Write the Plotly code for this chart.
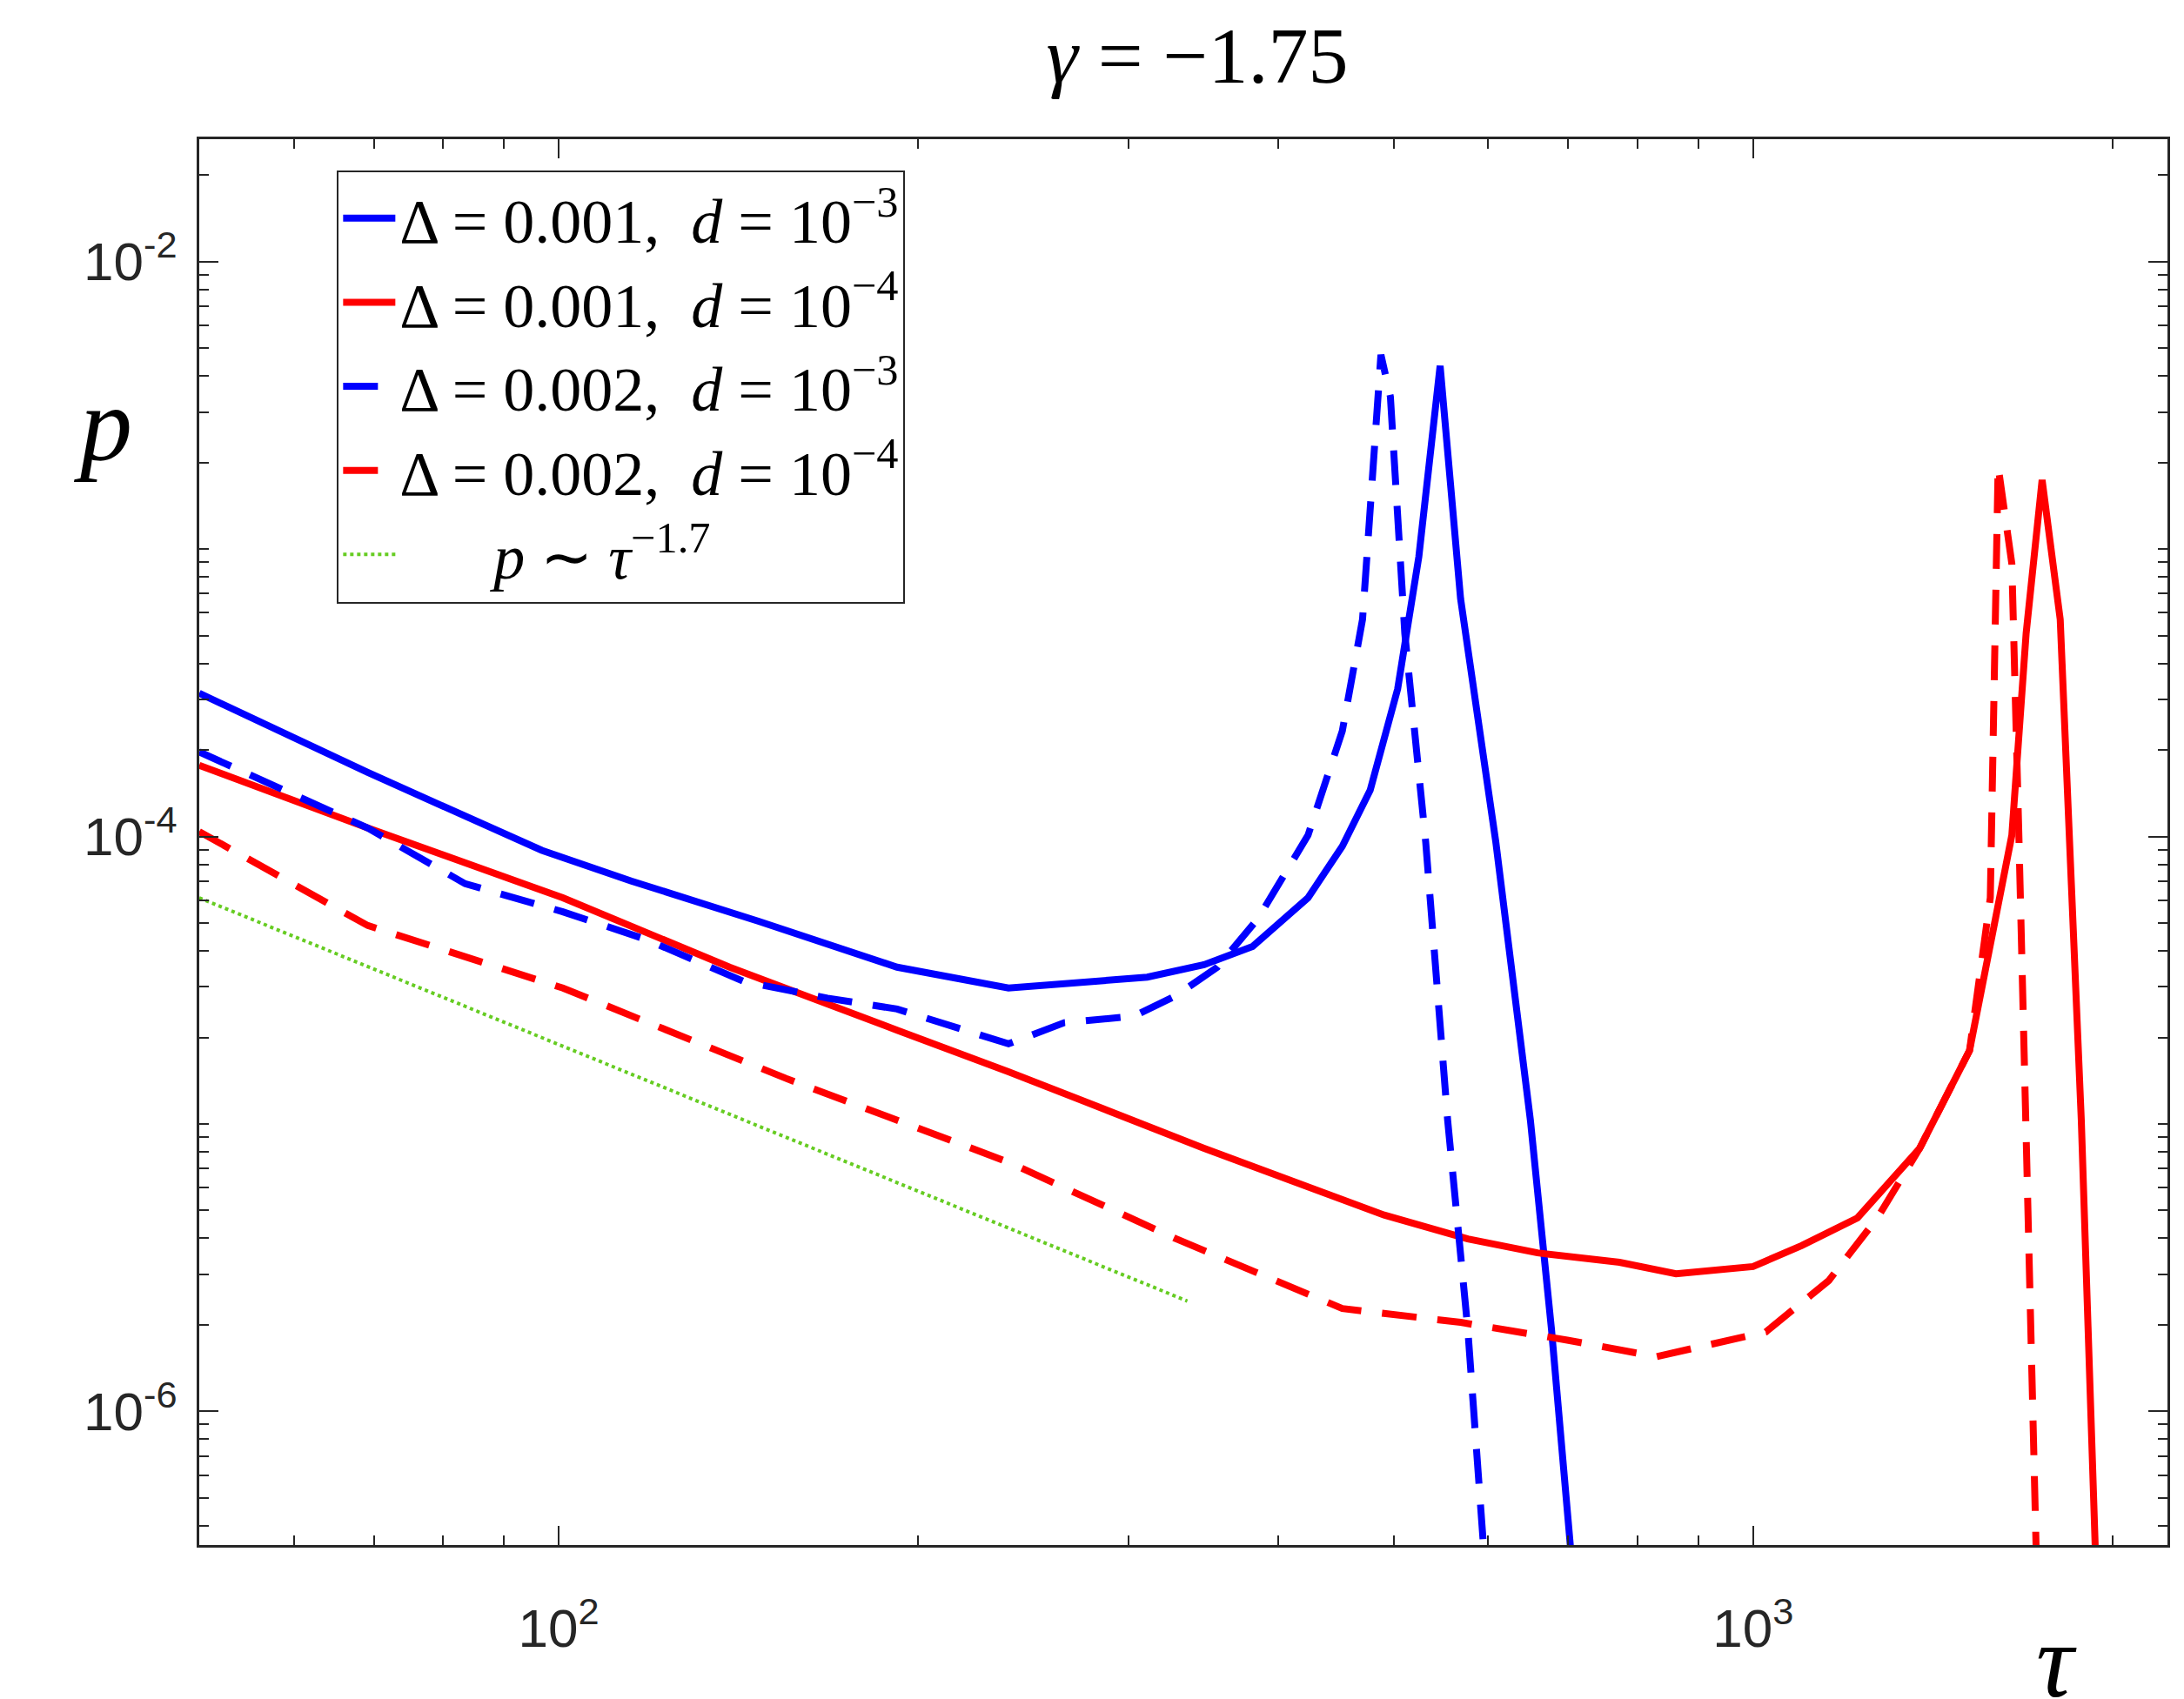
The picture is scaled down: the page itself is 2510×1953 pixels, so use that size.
import plotly.graph_objects as go

tau_bs = [50, 69.2, 96.8, 115, 147, 192, 238, 265, 311, 347, 381, 424, 453, 478, 504, 525, 547, 569, 609, 651, 678, 705]
p_bs = [3.15e-4, 1.67e-4, 8.95e-5, 7.0e-5, 5.07e-5, 3.51e-5, 2.97e-5, 3.07e-5, 3.24e-5, 3.58e-5, 4.14e-5, 6.12e-5, 9.25e-5, 1.45e-4, 3.26e-4, 9.4e-4, 4.34e-3, 6.73e-4, 9.57e-5, 1.03e-5, 1.93e-6, 3e-7]

tau_bd = [50, 69.2, 83.5, 100.8, 118.4, 142.9, 167.9, 192, 238, 265, 303, 329, 356, 385, 424, 453, 471, 488, 497, 511, 532, 555, 577, 596]
p_bd = [1.97e-4, 1.07e-4, 6.85e-5, 5.47e-5, 4.38e-5, 3.13e-5, 2.74e-5, 2.51e-5, 1.90e-5, 2.25e-5, 2.37e-5, 2.8e-5, 3.51e-5, 5.18e-5, 1.01e-4, 2.33e-4, 5.69e-4, 4.74e-3, 3.39e-3, 5.09e-4, 9.57e-5, 1.03e-5, 1.93e-6, 3e-7]

tau_rs = [50, 69.2, 100.8, 139, 192, 238, 347, 491, 577, 660, 773, 862, 1000, 1098, 1223, 1379, 1518, 1647, 1693, 1746, 1808, 1833, 1883, 1936]
p_rs = [1.77e-4, 1.07e-4, 6.12e-5, 3.51e-5, 2.12e-5, 1.52e-5, 8.23e-6, 4.82e-6, 3.98e-6, 3.56e-6, 3.30e-6, 3.01e-6, 3.19e-6, 3.77e-6, 4.71e-6, 8.23e-6, 1.80e-5, 1.01e-4, 5.09e-4, 1.74e-3, 5.69e-4, 1.34e-4, 1.03e-5, 3e-7]

tau_rd = [50, 69.2, 100.8, 155, 238, 329, 453, 569, 699, 830, 1025, 1157, 1271, 1379, 1518, 1580, 1604, 1647, 1670, 1714, 1727]
p_rd = [1.04e-4, 4.9e-5, 2.97e-5, 1.44e-5, 7.36e-6, 3.98e-6, 2.28e-6, 2.04e-6, 1.77e-6, 1.55e-6, 1.89e-6, 2.85e-6, 4.71e-6, 8.23e-6, 1.80e-5, 6.12e-5, 1.94e-3, 8.9e-4, 9.57e-5, 1.11e-6, 3e-7]

tau_g = [50, 336]
p_g = [6.12e-5, 2.42e-6]

xticks = [100, 1000]
xticktext = ["10<sup>2</sup>", "10<sup>3</sup>"]
yticks = [1e-2, 1e-4, 1e-6]
yticktext = ["10<sup>-2</sup>", "10<sup>-4</sup>", "10<sup>-6</sup>"]

SERIF = "Liberation Serif"

def lab(delta, exp):
    return f"Δ = {delta},  <i>d</i> = 10<sup>−{exp}</sup>"

fig = go.Figure()
fig.add_trace(go.Scatter(x=tau_bs, y=p_bs, mode="lines", name=lab("0.001", 3),
                         line=dict(color="#0000ff", width=8)))
fig.add_trace(go.Scatter(x=tau_rs, y=p_rs, mode="lines", name=lab("0.001", 4),
                         line=dict(color="#ff0000", width=8)))
fig.add_trace(go.Scatter(x=tau_bd, y=p_bd, mode="lines", name=lab("0.002", 3),
                         line=dict(color="#0000ff", width=8, dash="40px,24px")))
fig.add_trace(go.Scatter(x=tau_rd, y=p_rd, mode="lines", name=lab("0.002", 4),
                         line=dict(color="#ff0000", width=8, dash="40px,24px")))
fig.add_trace(go.Scatter(x=tau_g, y=p_g, mode="lines",
                         name="      <i>p</i> ∼ <i>τ</i><sup>−1.7</sup>",
                         line=dict(color="#66cc22", width=4, dash="dot")))

axis_common = dict(showline=True, linecolor="#262626", linewidth=3, mirror="ticks",
                   ticks="inside", ticklen=22, tickwidth=2, tickcolor="#262626",
                   showgrid=False, zeroline=False,
                   tickfont=dict(family="Liberation Sans", size=62, color="#262626"),
                   minor=dict(ticks="inside", ticklen=11, tickwidth=2, tickcolor="#262626",
                              showgrid=False, dtick="D1"))

fig.update_xaxes(type="log", range=[1.699, 3.347], tickvals=xticks, ticktext=xticktext,
                 ticklabelstandoff=40, **axis_common)
fig.update_yaxes(type="log", range=[-6.465, -1.574], tickvals=yticks, ticktext=yticktext,
                 ticklabelstandoff=10, **axis_common)

fig.update_layout(
    width=2510, height=1953, plot_bgcolor="white", paper_bgcolor="white",
    margin=dict(l=221, r=27, t=152, b=185),
    title=dict(text="<i>γ</i> = −1.75", x=0.545, xanchor="center", y=0.972, yanchor="middle",
               font=dict(family=SERIF, size=92, color="black")),
    legend=dict(x=0.07, y=0.978, xanchor="left", yanchor="top",
                bgcolor="white", bordercolor="#262626", borderwidth=2,
                font=dict(family=SERIF, size=72, color="black"),
                tracegroupgap=0, itemwidth=60),
    annotations=[
        dict(text="<i>p</i>", xref="paper", yref="paper", x=-0.065, y=0.84, showarrow=False,
             font=dict(family=SERIF, size=120, color="black")),
        dict(text="<i>τ</i>", xref="paper", yref="paper", x=0.955, y=-0.04, yanchor="top",
             showarrow=False, font=dict(family=SERIF, size=120, color="black")),
    ],
)

fig.write_html("out.html")
